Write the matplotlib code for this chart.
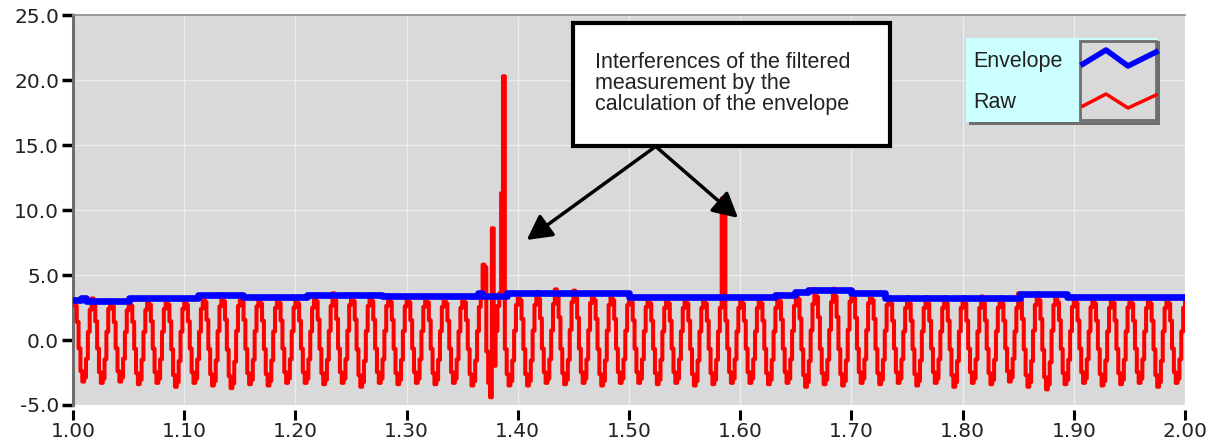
import numpy as np
import matplotlib
matplotlib.use("Agg")
import matplotlib.pyplot as plt
import matplotlib.transforms as mtrans
from matplotlib.patches import Rectangle

# ---- data ----
cycle_hz = 60
# one mains cycle, normalised (1 = peak, -1 = trough), stepped samples
cycle_shape = [1.0, 0.85, 0.45, -0.2, -0.75, -1.0, -0.9, -0.45, 0.2, 0.75]

peaks = [3.1, 3.2, 3.05, 3.1, 3.2, 3.2,
         3.2, 3.45, 3.5, 3.45, 3.3, 3.35,
         3.3, 3.5, 3.6, 3.5, 3.5, 3.45,
         3.4, 3.4, 3.3, 3.4, 3.5, 3.6,
         3.6, 3.7, 3.9, 3.8, 3.6, 3.6,
         3.4, 3.3, 3.3, 3.3, 3.3, 3.3,
         3.3, 3.3, 3.5, 3.7, 3.9, 3.95,
         3.8, 3.6, 3.3, 3.3, 3.3, 3.3,
         3.3, 3.35, 3.3, 3.6, 3.6, 3.4,
         3.35, 3.3, 3.35, 3.3, 3.3, 3.3]
troughs = [-3.2, -3.3, -3.2, -3.4, -3.3, -3.6,
           -3.3, -3.5, -3.7, -3.4, -3.5, -3.3,
           -3.3, -3.4, -3.3, -3.6, -3.3, -3.4,
           -3.3, -3.4, -3.3, -3.5, -4.4, -3.5,
           -3.5, -3.3, -3.4, -3.3, -3.5, -3.3,
           -3.3, -3.4, -3.3, -3.5, -3.4, -3.3,
           -3.3, -3.4, -3.3, -3.6, -3.4, -3.5,
           -3.3, -3.4, -3.3, -3.5, -3.3, -3.6,
           -3.3, -3.4, -3.2, -3.6, -3.8, -3.4,
           -3.3, -3.5, -3.4, -3.3, -3.6, -3.3]

spike_t = [1.368, 1.370, 1.377, 1.385, 1.3867, 1.584, 1.5857]
spike_v = [5.8, 5.6, 8.6, 11.3, 20.3, 10.9, 10.2]

env_t = [1.000, 1.007, 1.012, 1.050, 1.112, 1.153, 1.210, 1.278, 1.364, 1.368,
         1.390, 1.500, 1.631, 1.649, 1.661, 1.700, 1.730, 1.852, 1.894, 2.000]
env_v = [3.05, 3.25, 3.0, 3.2, 3.45, 3.3, 3.5, 3.35, 3.6, 3.35,
         3.6, 3.3, 3.45, 3.7, 3.85, 3.6, 3.25, 3.55, 3.3, 3.3]

xticks = [1.0, 1.1, 1.2, 1.3, 1.4, 1.5, 1.6, 1.7, 1.8, 1.9, 2.0]
yticks = [-5, 0, 5, 10, 15, 20, 25]

# ---- build raw series from cycles ----
n = len(cycle_shape)
raw_t, raw_v = [], []
for k, (p, tr) in enumerate(zip(peaks, troughs)):
    for i, s in enumerate(cycle_shape):
        raw_t.append(1.0 + (k + i / n) / cycle_hz)
        raw_v.append(s * p if s > 0 else -s * tr)
raw_t.append(2.0)
raw_v.append(peaks[-1])
raw_t = np.array(raw_t)
raw_v = np.array(raw_v)
for t, v in zip(spike_t, spike_v):
    raw_v[np.argmin(np.abs(raw_t - t))] = v

# ---- figure ----
fig = plt.figure(figsize=(12.17, 4.47), dpi=100)
ax = fig.add_axes([0.060, 0.094, 0.9137, 0.872])
ax.set_facecolor("#d9d9d9")

ax.plot(raw_t, raw_v, color="#ff0000", lw=2.9, drawstyle="steps-post", zorder=3)
ax.plot(env_t, env_v, color="#0000ff", lw=4.8, drawstyle="steps-post", zorder=4)

ax.set_xlim(1.0, 2.0)
ax.set_ylim(-5, 25)
ax.set_xticks(xticks)
ax.set_xticklabels([f"{v:.2f}" for v in xticks])
ax.set_yticks(yticks)
ax.set_yticklabels([f"{v:.1f}" for v in yticks])
ax.grid(True, color="#ececec", lw=1.0)
ax.set_axisbelow(True)

for s in ["right", "bottom"]:
    ax.spines[s].set_visible(False)
ax.spines["left"].set_color("#6e6e6e")
ax.spines["left"].set_linewidth(2.2)
ax.spines["top"].set_color("#8a8a8a")
ax.spines["top"].set_linewidth(1.2)

ax.tick_params(axis="y", length=8, width=2.5, color="black", labelsize=14.5,
               labelcolor="#222222", pad=2)
ax.tick_params(axis="x", length=7, width=2.2, color="black", labelsize=14.5,
               labelcolor="#222222", pad=1.5, direction="out")
# detach the x ticks a little below the plot
offset = mtrans.ScaledTranslation(0, -3.6 / 72, fig.dpi_scale_trans)
for lbl in ax.get_xticklabels():
    lbl.set_transform(lbl.get_transform() + offset)
for tk in ax.xaxis.get_major_ticks():
    tk.tick1line.set_transform(tk.tick1line.get_transform() + offset)

# ---- annotation box ----
ax.add_patch(Rectangle((1.4496, 14.9), 0.2851, 9.5, facecolor="white",
                       edgecolor="black", lw=3, zorder=6, clip_on=False))
ax.text(1.469, 19.75, "Interferences of the filtered\nmeasurement by the\ncalculation of the envelope",
        family="Liberation Sans", fontsize=15.5, color="#222222", va="center",
        ha="left", linespacing=1.0, zorder=7)
for tx, ty in [(1.408, 7.7), (1.598, 9.4)]:
    ax.annotate("", xy=(tx, ty), xytext=(1.524, 14.9),
                arrowprops=dict(arrowstyle="-|>,head_length=1.5,head_width=0.8",
                                color="black", lw=2.5, shrinkA=0, shrinkB=0),
                zorder=6)

# ---- legend (custom, like the original panel) ----
lg = fig.add_axes([966 / 1217, 1 - 125 / 447, 194 / 1217, 87 / 447])
lg.set_xlim(0, 194)
lg.set_ylim(87, 0)
lg.axis("off")
lg.add_patch(Rectangle((3, 3), 191, 84, facecolor="#6e6e6e", edgecolor="none"))
lg.add_patch(Rectangle((0, 0), 191, 84, facecolor="#ccffff", edgecolor="none"))
lg.add_patch(Rectangle((114, 3), 76, 79, facecolor="#d9d9d9", edgecolor="#6e6e6e", lw=2))
lg.text(7, 24, "Envelope", family="Liberation Sans", fontsize=15.5, va="center", color="#222222")
lg.text(7, 65, "Raw", family="Liberation Sans", fontsize=15.5, va="center", color="#222222")
lg.plot([117, 140, 162, 190], [26, 12, 28, 14], color="#0000ff", lw=4)
lg.plot([117, 140, 162, 190], [68, 56, 70, 57], color="#ff0000", lw=2.5)

fig.savefig("out.png", dpi=100)
